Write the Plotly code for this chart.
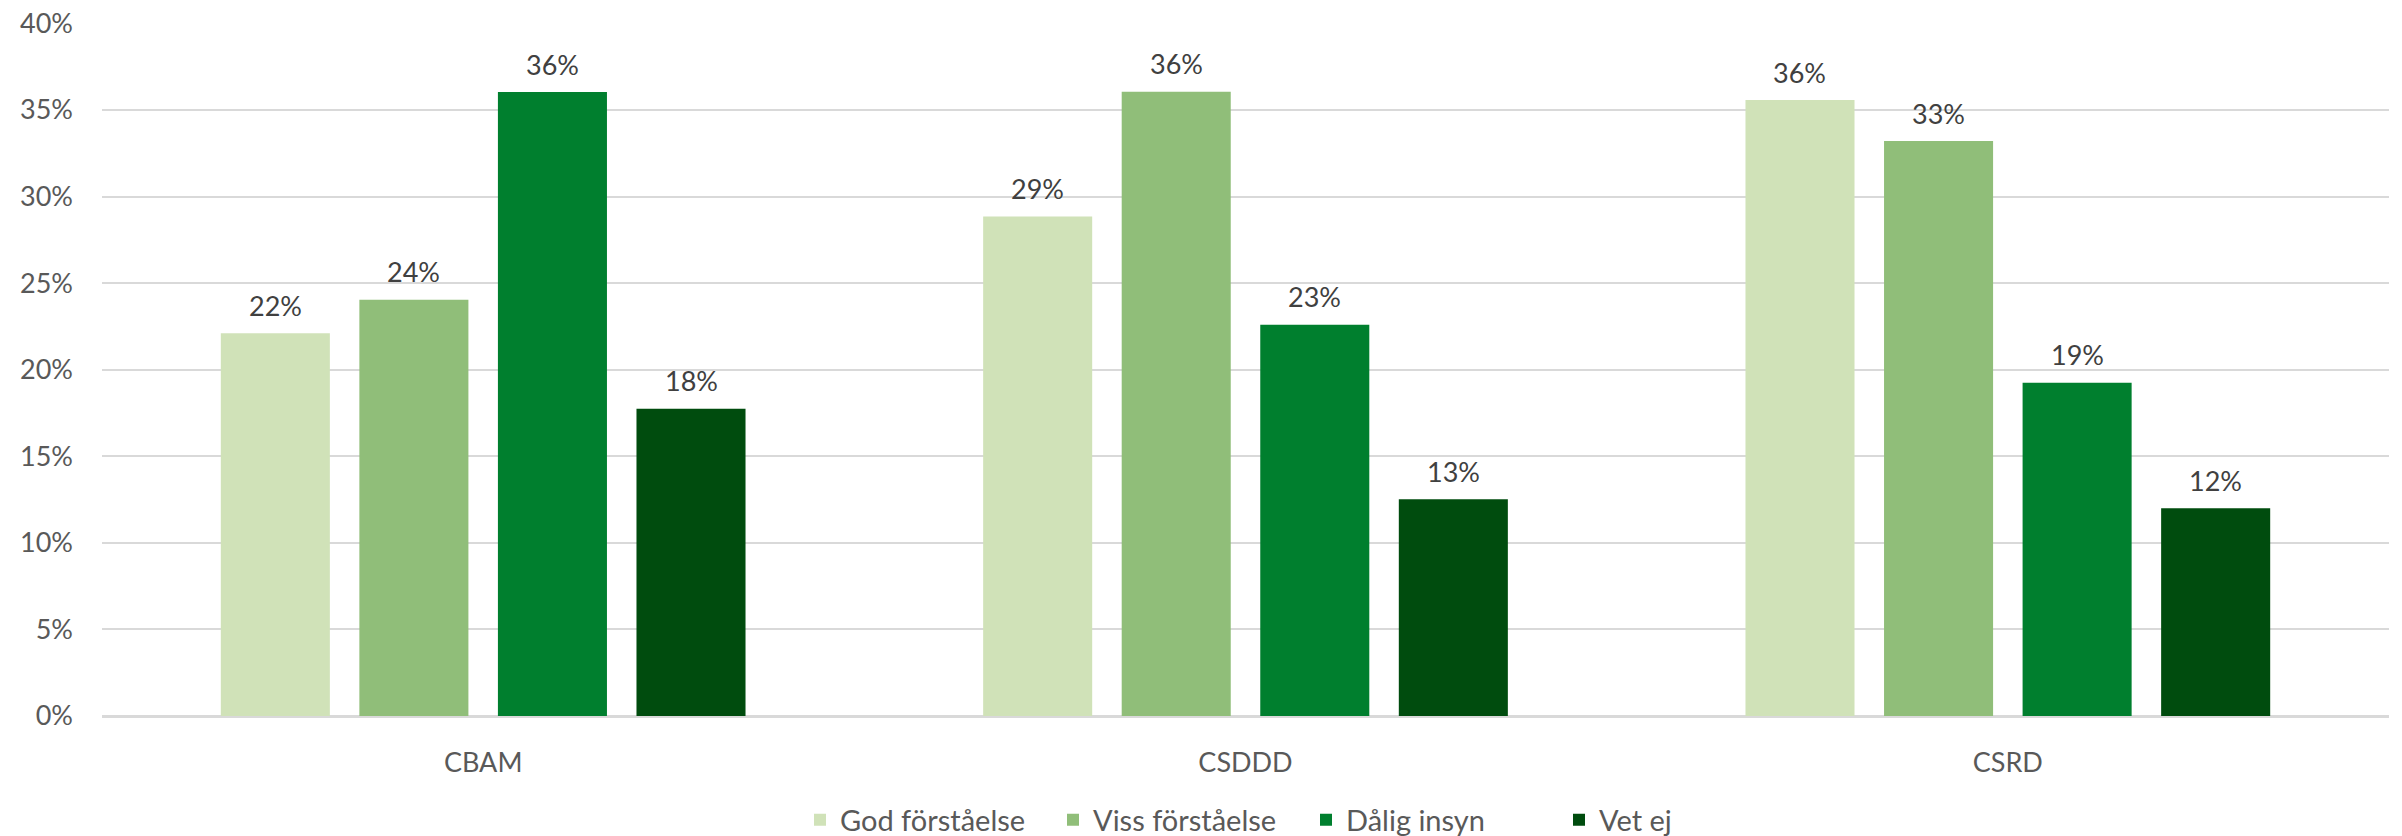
import plotly.graph_objects as go

categories = ["CBAM", "CSDDD", "CSRD"]
series_names = ["God förståelse", "Viss förståelse", "Dålig insyn", "Vet ej"]
god = [22.1, 28.85, 35.57]
viss = [24.04, 36.05, 33.2]
dalig = [36.03, 22.6, 19.25]
vet_ej = [17.75, 12.52, 12.0]
y_ticks = [0, 5, 10, 15, 20, 25, 30, 35, 40]

colors = ["#D0E2B8", "#90BE79", "#007F2E", "#004C0E"]
series = [god, viss, dalig, vet_ej]

W, H = 2402, 836
# page body has an 8px margin; margins compensate for it
ML, MR, MT, MB = 94, 21, 15, 128
BARGAP = 0.273
BARGROUPGAP = 0.213
FONT = "Lato, 'Open Sans', sans-serif"

fig = go.Figure()
for name, vals, col in zip(series_names, series, colors):
    fig.add_trace(go.Bar(
        x=categories, y=vals, name=name,
        marker=dict(color=col, line=dict(width=0)),
        hoverinfo="skip",
    ))

plot_w = W - ML - MR
cat_w = plot_w / len(categories)
pitch = cat_w * (1 - BARGAP) / len(series)

annotations = []
for i, vals in enumerate(series):
    for cat, v in zip(categories, vals):
        annotations.append(dict(
            x=cat, y=v, xref="x", yref="y",
            text=f"{v:.0f}%", showarrow=False,
            xshift=(i - 1.5) * pitch, yshift=28,
            yanchor="middle",
            font=dict(family=FONT, size=27, color="#404040"),
        ))

fig.update_layout(
    width=W, height=H,
    margin=dict(l=ML, r=MR, t=MT, b=MB, autoexpand=False),
    barmode="group", bargap=BARGAP, bargroupgap=BARGROUPGAP,
    plot_bgcolor="white", paper_bgcolor="white",
    font=dict(family=FONT, size=27, color="#595959"),
    annotations=annotations,
    showlegend=True,
    legend=dict(
        orientation="h", x=(812 - 8 - ML - 12) / plot_w, xanchor="left",
        yref="container", y=0.0287, yanchor="middle",
        font=dict(family=FONT, size=29, color="#595959"),
        itemwidth=30, tracegroupgap=0,
        entrywidth=208,
    ),
    xaxis=dict(
        automargin=False,
        showgrid=False, showline=True, linecolor="#D9D9D9", linewidth=2,
        ticks="", ticklabelstandoff=22,
        tickfont=dict(family=FONT, size=27, color="#595959"),
    ),
    yaxis=dict(
        automargin=False,
        range=[0, 40.02], tickvals=y_ticks, ticktext=[f"{t}%" for t in y_ticks],
        ticklabeloverflow="allow",
        showgrid=True, gridcolor="#D9D9D9", gridwidth=2,
        zeroline=True, zerolinecolor="#D9D9D9", zerolinewidth=2,
        showline=False, ticks="", ticklabelstandoff=28,
        tickfont=dict(family=FONT, size=27, color="#595959"),
    ),
)

fig.write_html("out.html")
